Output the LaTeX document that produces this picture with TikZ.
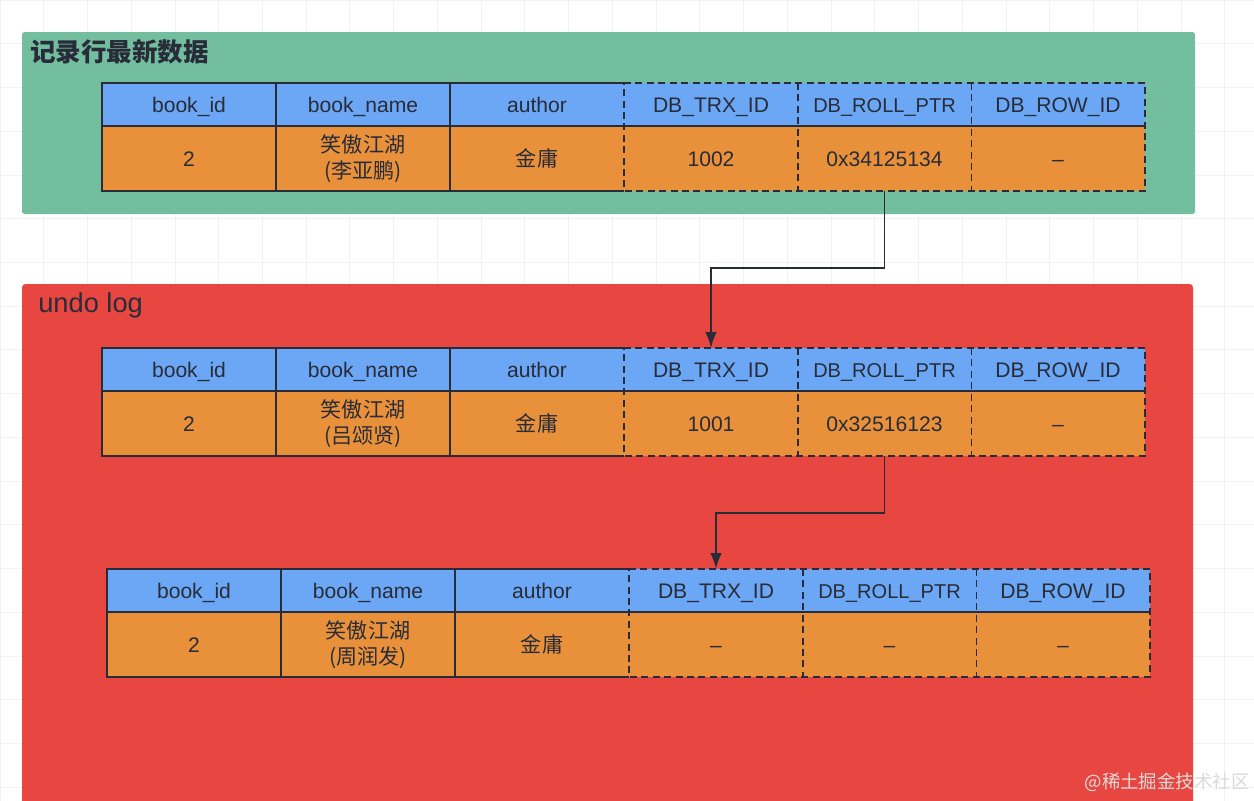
\documentclass[tikz,border=0pt]{standalone}
\usepackage{fontspec}
\setmainfont{Liberation Sans}
\newfontfamily\cjk{Noto Sans CJK SC}
\usepackage{tikz}
\usetikzlibrary{calc}
\usetikzlibrary{arrows.meta}
\definecolor{boxgreen}{RGB}{116,190,160}
\definecolor{boxred}{RGB}{232,70,64}
\definecolor{headblue}{RGB}{108,167,245}
\definecolor{cellorange}{RGB}{233,145,58}
\definecolor{inkdark}{RGB}{40,44,56}
\definecolor{gridgray}{RGB}{242,242,242}

\begin{document}
\begin{tikzpicture}[x=0.02cm,y=-0.02cm,>={Latex[length=9pt,width=6.5pt]},
cellbase/.style={minimum width=3.48cm,inner sep=0pt,outer sep=0pt,text=inkdark,font=\fontsize{12}{14}\selectfont},
hcell/.style={cellbase,fill=headblue,minimum height=0.86cm,text height=8.6pt,text depth=0pt},
vcell/.style={cellbase,fill=cellorange,minimum height=1.3cm,text height=8.6pt,text depth=0pt},
cjkcell/.style={cellbase,fill=cellorange,minimum height=1.3cm,align=center,font=\cjk\fontsize{12}{15}\selectfont},
tline/.style={line width=1.1pt,draw=inkdark},
dline/.style={tline,dash pattern=on 4pt off 2.5pt},
ptr/.style={->,line width=1.1pt,draw=inkdark}]

\useasboundingbox (0,0) rectangle (1254,801);
\fill[white] (0,0) rectangle (1254,801);
\draw[gridgray,line width=0.5pt,step=0.875cm] (0,801) grid (1254,0);

% boxes
\fill[boxgreen,rounded corners=1.5] (22,32) rectangle (1195,214);
\fill[boxred,rounded corners=2] (22,284) rectangle (1193,820);
\node[anchor=west,inner sep=0pt,text=inkdark,font=\cjk\bfseries\fontsize{14.5}{17}\selectfont] (newtitle) at (30,52) {记录行最新数据};
\node[anchor=west,inner sep=0pt,text=inkdark,font=\fontsize{15.5}{18}\selectfont] (undotitle) at (38,305) {undo log};

% latest row
\node[hcell] (aidh) at (189,104.5) {book\_id};
\node[hcell] (anameh) at (363,104.5) {book\_name};
\node[hcell] (aauthh) at (537,104.5) {author};
\node[hcell] (atrxh) at (711,104.5) {DB\_TRX\_ID};
\node[hcell,font=\fontsize{11.4}{13}\selectfont] (arollh) at (884.5,104.5) {DB\_ROLL\_PTR};
\node[hcell] (arowh) at (1058,104.5) {DB\_ROW\_ID};
\node[vcell] (aidv) at (189,158.5) {2};
\node[cjkcell] (anamev) at (363,158.5) {笑傲江湖\\(李亚鹏)};
\node[cjkcell] (aauthv) at (537,158.5) {金庸};
\node[vcell] (atrxv) at (711,158.5) {1002};
\node[vcell] (arollv) at (884.5,158.5) {0x34125134};
\node[vcell] (arowv) at (1058,158.5) {--};
\draw[tline] (aauthh.north east) -- (aidh.north west) -- (aidv.south west) -- (aauthv.south east);
\draw[tline] (aidh.north east) -- (aidv.south east);
\draw[tline] (anameh.north east) -- (anamev.south east);
\draw[dline] (atrxh.north west) -- (arowh.north east) -- (arowv.south east) -- (atrxv.south west) -- cycle;
\draw[dline] (atrxh.north east) -- (atrxv.south east);
\draw[dline] (arollh.north east) -- (arollv.south east);
\draw[tline] (aidh.south west) -- (arowh.south east);

% undo log 1
\node[hcell] (bidh) at (189,369.5) {book\_id};
\node[hcell] (bnameh) at (363,369.5) {book\_name};
\node[hcell] (bauthh) at (537,369.5) {author};
\node[hcell] (btrxh) at (711,369.5) {DB\_TRX\_ID};
\node[hcell,font=\fontsize{11.4}{13}\selectfont] (brollh) at (884.5,369.5) {DB\_ROLL\_PTR};
\node[hcell] (browh) at (1058,369.5) {DB\_ROW\_ID};
\node[vcell] (bidv) at (189,423.5) {2};
\node[cjkcell] (bnamev) at (363,423.5) {笑傲江湖\\(吕颂贤)};
\node[cjkcell] (bauthv) at (537,423.5) {金庸};
\node[vcell] (btrxv) at (711,423.5) {1001};
\node[vcell] (brollv) at (884.5,423.5) {0x32516123};
\node[vcell] (browv) at (1058,423.5) {--};
\draw[tline] (bauthh.north east) -- (bidh.north west) -- (bidv.south west) -- (bauthv.south east);
\draw[tline] (bidh.north east) -- (bidv.south east);
\draw[tline] (bnameh.north east) -- (bnamev.south east);
\draw[dline] (btrxh.north west) -- (browh.north east) -- (browv.south east) -- (btrxv.south west) -- cycle;
\draw[dline] (btrxh.north east) -- (btrxv.south east);
\draw[dline] (brollh.north east) -- (brollv.south east);
\draw[tline] (bidh.south west) -- (browh.south east);

% undo log 2
\node[hcell] (cidh) at (194,590.5) {book\_id};
\node[hcell] (cnameh) at (368,590.5) {book\_name};
\node[hcell] (cauthh) at (542,590.5) {author};
\node[hcell] (ctrxh) at (716,590.5) {DB\_TRX\_ID};
\node[hcell,font=\fontsize{11.4}{13}\selectfont] (crollh) at (889.5,590.5) {DB\_ROLL\_PTR};
\node[hcell] (crowh) at (1063,590.5) {DB\_ROW\_ID};
\node[vcell] (cidv) at (194,644.5) {2};
\node[cjkcell] (cnamev) at (368,644.5) {笑傲江湖\\(周润发)};
\node[cjkcell] (cauthv) at (542,644.5) {金庸};
\node[vcell] (ctrxv) at (716,644.5) {--};
\node[vcell] (crollv) at (889.5,644.5) {--};
\node[vcell] (crowv) at (1063,644.5) {--};
\draw[tline] (cauthh.north east) -- (cidh.north west) -- (cidv.south west) -- (cauthv.south east);
\draw[tline] (cidh.north east) -- (cidv.south east);
\draw[tline] (cnameh.north east) -- (cnamev.south east);
\draw[dline] (ctrxh.north west) -- (crowh.north east) -- (crowv.south east) -- (ctrxv.south west) -- cycle;
\draw[dline] (ctrxh.north east) -- (ctrxv.south east);
\draw[dline] (crollh.north east) -- (crollv.south east);
\draw[tline] (cidh.south west) -- (crowh.south east);

% roll pointers
\draw[ptr] (arollv.south) -- ++(0,77) -| (btrxh.north);
\draw[ptr] (brollv.south) -- ++(0,57) -| (ctrxh.north);

\node[anchor=east,inner sep=0pt,text=white!72!gray,font=\cjk\fontsize{10.5}{12}\selectfont] (mark) at (1250,782) {@稀土掘金技术社区};
\end{tikzpicture}
\end{document}
